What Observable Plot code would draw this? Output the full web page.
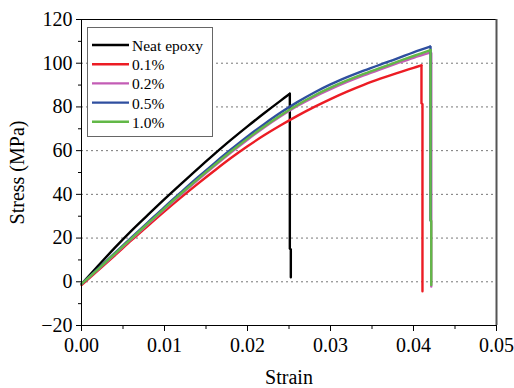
<!DOCTYPE html>
<html><head><meta charset="utf-8">
<script src="https://cdn.jsdelivr.net/npm/d3@7"></script>
<script src="https://cdn.jsdelivr.net/npm/@observablehq/plot@0.6"></script>
<style>
html,body{margin:0;padding:0;background:#fff;}
#chart{position:relative;width:514px;height:388px;}
</style></head><body><div id="chart"></div>
<script>
// Legend / series
const seriesNames = ["Neat epoxy", "0.1%", "0.2%", "0.5%", "1.0%"];
const seriesColors = ["#000000", "#ec1c24", "#c35cb5", "#2f4f9f", "#62b847"];

// Neat epoxy: loading curve, then fracture drop
const neatStrain = [0, 0.002, 0.004, 0.006, 0.008, 0.010, 0.012, 0.014, 0.016, 0.018, 0.020, 0.022, 0.024, 0.0251];
const neatStress = [-1, 7.3, 15.5, 23.3, 30.6, 37.8, 44.8, 51.7, 58.4, 64.9, 71.1, 77.1, 82.9, 86.0];
const neatDropStrain = [0.0251, 0.0251, 0.02522, 0.02522];
const neatDropStress = [86.0, 15.0, 15.0, 2.1];
// 0.1%
const s01Strain = [0, 0.002, 0.004, 0.006, 0.008, 0.010, 0.012, 0.014, 0.016, 0.018, 0.020, 0.022, 0.024, 0.026, 0.028, 0.030, 0.032, 0.034, 0.036, 0.038, 0.040, 0.04096];
const s01Stress = [-1.5, 5.2, 12.0, 18.9, 25.6, 32.2, 38.6, 44.8, 50.8, 56.6, 62.0, 67.0, 71.6, 75.9, 79.9, 83.6, 87.0, 90.1, 92.9, 95.5, 97.9, 99.0];
const s01DropStrain = [0.04096, 0.04096, 0.04108, 0.04108];
const s01DropStress = [99.0, 81.5, 81.5, -4.3];
// 0.2%
const s02Strain = [0, 0.002, 0.004, 0.006, 0.008, 0.010, 0.012, 0.014, 0.016, 0.018, 0.020, 0.022, 0.024, 0.026, 0.028, 0.030, 0.032, 0.034, 0.036, 0.038, 0.040, 0.0420];
const s02Stress = [-1, 5.7, 12.6, 19.5, 26.4, 33.2, 39.9, 46.5, 52.9, 59.1, 65.0, 70.6, 75.7, 80.4, 84.5, 88.1, 91.4, 94.4, 97.2, 99.9, 102.5, 104.8];
const s02DropStrain = [0.0420, 0.04214, 0.04214];
const s02DropStress = [104.8, 104.8, -2.2];
// 0.5%
const s05Strain = [0, 0.002, 0.004, 0.006, 0.008, 0.010, 0.012, 0.014, 0.016, 0.018, 0.020, 0.022, 0.024, 0.026, 0.028, 0.030, 0.032, 0.034, 0.036, 0.038, 0.040, 0.0420];
const s05Stress = [-1, 6.0, 13.1, 20.2, 27.2, 34.2, 41.0, 47.7, 54.2, 60.5, 66.5, 72.1, 77.4, 82.2, 86.5, 90.3, 93.6, 96.6, 99.4, 102.1, 105.0, 107.6];
const s05DropStrain = [0.0420, 0.04205, 0.04205];
const s05DropStress = [107.6, 107.6, 28];
// 1.0%
const s10Strain = [0, 0.002, 0.004, 0.006, 0.008, 0.010, 0.012, 0.014, 0.016, 0.018, 0.020, 0.022, 0.024, 0.026, 0.028, 0.030, 0.032, 0.034, 0.036, 0.038, 0.040, 0.04205];
const s10Stress = [-1, 5.8, 12.8, 19.8, 26.7, 33.6, 40.4, 47.0, 53.4, 59.6, 65.5, 71.0, 76.2, 80.9, 85.1, 88.8, 92.1, 95.1, 97.9, 100.6, 103.3, 106.0];
const s10DropStrain = [0.04205, 0.04205, 0.04214, 0.04214];
const s10DropStress = [106.0, 28, 28, -1.5];

// Axes
const xMajorTicks = [0, 0.01, 0.02, 0.03, 0.04, 0.05];
const xMinorTicks = [0.005, 0.015, 0.025, 0.035, 0.045];
const yMajorTicks = [-20, 0, 20, 40, 60, 80, 100, 120];
const yMinorTicks = [-10, 10, 30, 50, 70, 90, 110];
const gridValues = [0, 20, 40, 60, 80, 100];

const seriesData = [
  [seriesNames[0], neatStrain, neatStress, neatDropStrain, neatDropStress],
  [seriesNames[1], s01Strain, s01Stress, s01DropStrain, s01DropStress],
  [seriesNames[2], s02Strain, s02Stress, s02DropStrain, s02DropStress],
  [seriesNames[3], s05Strain, s05Stress, s05DropStrain, s05DropStress],
  [seriesNames[4], s10Strain, s10Stress, s10DropStrain, s10DropStress]
];
const rows = [];
for (const [name, xs, ys, dxs, dys] of seriesData) {
  xs.forEach((x, i) => rows.push({series: name, part: "rise", strain: x, stress: ys[i]}));
  dxs.forEach((x, i) => rows.push({series: name, part: "drop", strain: x, stress: dys[i]}));
}

const font = "'Liberation Serif', 'Times New Roman', serif";
const marks = [
  Plot.ruleY(gridValues, {stroke: "#777", strokeDasharray: "2,3", strokeWidth: 1})
];
for (const name of seriesNames) {
  marks.push(Plot.line(rows.filter(d => d.series === name && d.part === "rise"), {x: "strain", y: "stress", stroke: "series", strokeWidth: 2.4, curve: "catmull-rom"}));
  marks.push(Plot.line(rows.filter(d => d.series === name && d.part === "drop"), {x: "strain", y: "stress", stroke: "series", strokeWidth: 2.4, strokeLinejoin: "miter"}));
}
marks.push(
  Plot.frame({stroke: "black", strokeWidth: 1}),
  Plot.ruleX([0.05], {stroke: "#555", strokeWidth: 2}),
  Plot.axisX(xMajorTicks, {anchor: "bottom", tickSize: 6, tickPadding: 6, tickFormat: d3.format(".2f"), fontSize: 20, label: "Strain", labelAnchor: "center", labelOffset: 58, labelArrow: "none"}),
  Plot.axisX(xMinorTicks, {anchor: "bottom", tickSize: 4, tickFormat: () => "", label: null}),
  Plot.axisY(yMajorTicks, {anchor: "left", tickSize: 5, tickPadding: 4, fontSize: 20, label: "Stress (MPa)", labelAnchor: "center", labelOffset: 72, labelArrow: "none"}),
  Plot.axisY(yMinorTicks, {anchor: "left", tickSize: 3, tickFormat: () => "", label: null})
);

const chart = Plot.plot({
  width: 514, height: 388,
  marginLeft: 81, marginRight: 18, marginTop: 19, marginBottom: 63,
  style: {fontFamily: font, fontSize: "20px", color: "black", background: "white"},
  x: {domain: [0, 0.05], axis: null},
  y: {domain: [-20, 120], axis: null},
  color: {domain: seriesNames, range: seriesColors},
  marks
});
document.getElementById("chart").appendChild(chart);

// In-plot legend box
const svg = d3.select(chart);
const lg = svg.append("g").attr("font-family", font).attr("font-size", 15.5).attr("text-anchor", "start");
lg.append("rect").attr("x", 87.5).attr("y", 27.5).attr("width", 125).attr("height", 109)
  .attr("fill", "white").attr("stroke", "#666").attr("stroke-width", 1);
seriesNames.forEach((n, i) => {
  const y = 45 + i * 19.2;
  lg.append("line").attr("x1", 92).attr("x2", 129).attr("y1", y).attr("y2", y)
    .attr("stroke", seriesColors[i]).attr("stroke-width", 2.4);
  lg.append("text").attr("x", 132).attr("y", y + 6).attr("fill", "black").text(n);
});
</script></body></html>
